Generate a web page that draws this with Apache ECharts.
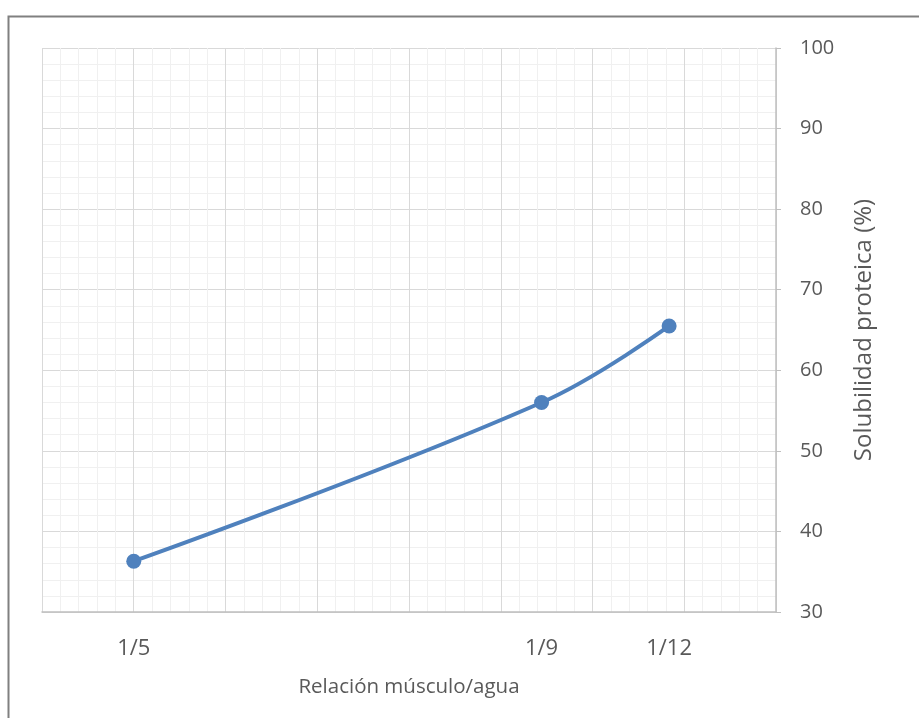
<!DOCTYPE html>
<html>
<head>
<meta charset="utf-8">
<script src="https://cdn.jsdelivr.net/npm/echarts@6/dist/echarts.min.js"></script>
<style>
  html, body { margin: 0; padding: 0; background: #ffffff; }
  #chart { width: 919px; height: 718px; }
</style>
</head>
<body>
<div id="chart"></div>
<script>
// Muscle/water ratio (as a fraction) and the protein solubility measured at each
const ratioLabels = ['1/5', '1/9', '1/12'];
const ratioValues = [0.2, 0.1111, 0.0833];
const solubility = [36.3, 56.0, 65.5];

const xAxisTitle = 'Relación músculo/agua';
const yAxisTitle = 'Solubilidad proteica (%)';

const FONT = '"Open Sans", "Noto Sans", sans-serif';
const TEXT = '#595959';

const chart = echarts.init(document.getElementById('chart'), null, { renderer: 'canvas' });

chart.setOption({
  backgroundColor: '#ffffff',
  animation: false,
  graphic: [{
    type: 'rect',
    shape: { x: 8.5, y: 16.5, width: 1200, height: 1200 },
    style: { fill: 'none', stroke: '#808080', lineWidth: 2 },
    silent: true
  }],
  grid: { left: 42, right: 143, top: 48, bottom: 106 },
  xAxis: {
    type: 'value',
    min: 0.06,
    max: 0.22,
    interval: 0.02,
    inverse: true,
    name: xAxisTitle,
    nameLocation: 'middle',
    nameGap: 65,
    nameTextStyle: { color: TEXT, fontFamily: FONT, fontSize: 20.5 },
    axisLine: { show: true, onZero: false, lineStyle: { color: '#bfbfbf', width: 1.5 } },
    axisTick: { show: false },
    axisLabel: {
      customValues: ratioValues,
      color: TEXT, fontFamily: FONT, fontSize: 22, margin: 26,
      formatter: function (v) {
        const i = ratioValues.indexOf(v);
        return i >= 0 ? ratioLabels[i] : '';
      }
    },
    splitLine: { show: true, lineStyle: { color: '#d9d9d9', width: 1 } },
    minorTick: { show: false, splitNumber: 5 },
    minorSplitLine: { show: true, lineStyle: { color: '#f0f0f0', width: 1 } }
  },
  yAxis: {
    type: 'value',
    position: 'right',
    min: 30,
    max: 100,
    interval: 10,
    name: yAxisTitle,
    nameLocation: 'middle',
    nameGap: 76,
    nameRotate: 90,
    nameTextStyle: { color: TEXT, fontFamily: FONT, fontSize: 24 },
    axisLine: { show: true, lineStyle: { color: '#bfbfbf', width: 1.5 } },
    axisTick: { show: true, inside: false, length: 5, lineStyle: { color: '#bfbfbf' } },
    axisLabel: { color: TEXT, fontFamily: FONT, fontSize: 20, margin: 24 },
    splitLine: { show: true, lineStyle: { color: '#d9d9d9', width: 1 } },
    minorTick: { show: false, splitNumber: 5 },
    minorSplitLine: { show: true, lineStyle: { color: '#f0f0f0', width: 1 } }
  },
  series: [{
    type: 'line',
    data: ratioValues.map((x, i) => [x, solubility[i]]),
    smooth: 0.4,
    symbol: 'circle',
    symbolSize: 15,
    lineStyle: { color: '#4f81bd', width: 4 },
    itemStyle: { color: '#4f81bd' }
  }]
});
</script>
</body>
</html>
